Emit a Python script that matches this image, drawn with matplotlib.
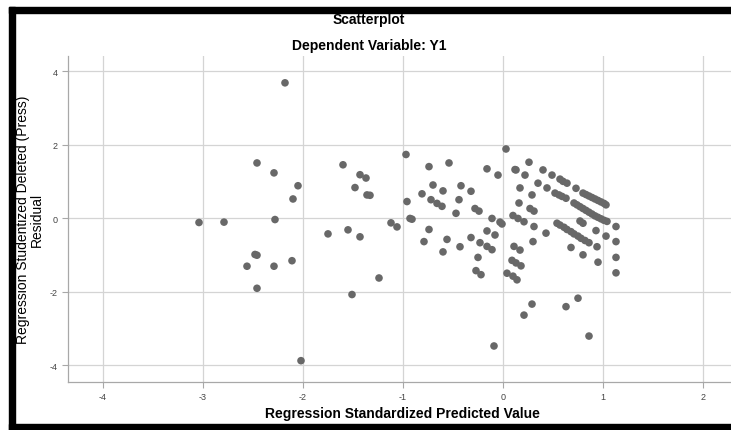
import matplotlib
matplotlib.use("Agg")
import matplotlib.pyplot as plt
from matplotlib.patches import Rectangle

# standardized predicted value (x) and studentized deleted residual (y)
pred_left = [-3.04, -2.79, -2.18, -2.46, -2.29, -2.05, -2.10, -2.28, -2.48, -2.46,
             -2.56, -2.29, -2.11, -2.46, -2.02, -1.60, -1.43, -1.37, -1.48, -1.36,
             -1.33, -1.12, -1.06, -1.75, -1.55, -1.43, -1.24, -1.51]
resid_left = [-0.11, -0.10, 3.69, 1.51, 1.24, 0.89, 0.53, -0.03, -0.98, -1.00,
              -1.30, -1.30, -1.15, -1.90, -3.87, 1.46, 1.19, 1.10, 0.84, 0.64,
              0.63, -0.12, -0.23, -0.42, -0.31, -0.50, -1.62, -2.07]

pred_mid = [-0.97, -0.96, -0.93, -0.91, -0.74, -0.54, -0.70, -0.60, -0.81, -0.72,
            -0.66, -0.61, -0.42, -0.32, -0.44, -0.47, -0.28, -0.24, -0.16, -0.05,
            -0.74, -0.79, -0.56, -0.60, -0.43, -0.32, -0.23, -0.16, -0.11, -0.25,
            -0.27, -0.22, -0.11, -0.03, -0.01, -0.16, -0.08, -0.09]
resid_mid = [1.74, 0.46, 0.00, -0.02, 1.41, 1.51, 0.91, 0.75, 0.67, 0.51,
             0.41, 0.33, 0.89, 0.74, 0.51, 0.14, 0.27, 0.20, 1.35, 1.18,
             -0.30, -0.63, -0.57, -0.91, -0.77, -0.52, -0.66, -0.76, -0.85, -1.06,
             -1.42, -1.53, 0.00, -0.10, -0.15, -0.34, -0.45, -3.47]

pred_right = [0.03, 0.12, 0.13, 0.22, 0.26, 0.17, 0.29, 0.16, 0.27, 0.31,
              0.10, 0.15, 0.21, 0.31, 0.30, 0.43, 0.11, 0.17, 0.09, 0.13,
              0.18, 0.04, 0.10, 0.14, 0.29, 0.21, 0.63, 0.75, 0.86,
              0.40, 0.49, 0.57, 0.60, 0.64, 0.73,
              0.80, 0.83, 0.86, 0.89, 0.92, 0.95, 0.98, 1.01, 1.03,
              0.35, 0.44, 0.52, 0.56, 0.59, 0.63,
              0.71, 0.74, 0.77, 0.80, 0.83, 0.86, 0.89, 0.92, 0.95, 0.98, 1.01, 1.04,
              0.77, 0.80,
              0.54, 0.57, 0.61, 0.64, 0.68, 0.71, 0.75, 0.78, 0.82, 0.86,
              0.93, 1.03, 1.13, 1.13, 1.13, 1.13, 0.94, 0.95, 0.68, 0.80]
resid_right = [1.89, 1.33, 1.32, 1.18, 1.53, 0.83, 0.64, 0.42, 0.27, 0.20,
               0.08, 0.00, -0.09, -0.22, -0.63, -0.40, -0.76, -0.86, -1.14, -1.21,
               -1.29, -1.49, -1.57, -1.67, -2.33, -2.63, -2.40, -2.17, -3.20,
               1.32, 1.18, 1.07, 1.01, 0.96, 0.82,
               0.69, 0.65, 0.61, 0.57, 0.53, 0.49, 0.45, 0.41, 0.37,
               0.96, 0.83, 0.69, 0.64, 0.60, 0.55,
               0.42, 0.37, 0.32, 0.27, 0.22, 0.17, 0.12, 0.07, 0.03, -0.01, -0.05, -0.08,
               -0.07, -0.13,
               -0.13, -0.18, -0.24, -0.30, -0.36, -0.42, -0.48, -0.54, -0.60, -0.66,
               -0.33, -0.48, -0.22, -0.63, -1.06, -1.48, -0.77, -1.19, -0.79, -0.99]

x_ticks = [-4, -3, -2, -1, 0, 1, 2]
y_ticks = [-4, -2, 0, 2, 4]

plt.rcParams["font.family"] = ["Liberation Sans", "DejaVu Sans"]
plt.rcParams["axes.unicode_minus"] = False

fig = plt.figure(figsize=(7.31, 4.31), dpi=100)
ax = fig.add_axes([68 / 731, 48 / 431, 663 / 731, 326 / 431])

x = pred_left + pred_mid + pred_right
y = resid_left + resid_mid + resid_right
ax.scatter(x, y, s=30, color="#686868", edgecolors="none", zorder=3)

ax.set_xlim(-4.35, 2.28)
ax.set_ylim(-4.45, 4.42)
ax.set_xticks(x_ticks)
ax.set_yticks(y_ticks)
ax.grid(True, color="#d4d4d4", linewidth=0.9)
ax.set_axisbelow(True)
for side in ["top", "right"]:
    ax.spines[side].set_visible(False)
for side in ["left", "bottom"]:
    ax.spines[side].set_color("#a8a8a8")
    ax.spines[side].set_linewidth(0.9)
ax.tick_params(colors="#a8a8a8", labelcolor="#444444", labelsize=6.5, length=4, width=0.8)

fig.text(0.505, 1 - 20 / 431, "Scatterplot", ha="center", va="center",
         fontsize=10, fontweight="bold")
fig.text(0.505, 1 - 46 / 431, "Dependent Variable: Y1", ha="center", va="center",
         fontsize=10, fontweight="bold")
fig.text(402 / 731, 1 - 414 / 431, "Regression Standardized Predicted Value",
         ha="center", va="center", fontsize=10, fontweight="bold")
fig.text(30 / 731, 1 - 220 / 431, "Regression Studentized Deleted (Press)\nResidual",
         ha="center", va="center", rotation=90, fontsize=10,
         multialignment="center", linespacing=1.0)

# thick black frame around the chart (top, left, bottom)
fig.patches.append(Rectangle((9 / 731, 1 - 14 / 431), 1, 6 / 431,
                             transform=fig.transFigure, color="black"))
fig.patches.append(Rectangle((9 / 731, 0), 6 / 731, 1 - 8 / 431,
                             transform=fig.transFigure, color="black"))
fig.patches.append(Rectangle((9 / 731, 0), 1, 6 / 431,
                             transform=fig.transFigure, color="black"))

fig.savefig("out.png", dpi=100)
